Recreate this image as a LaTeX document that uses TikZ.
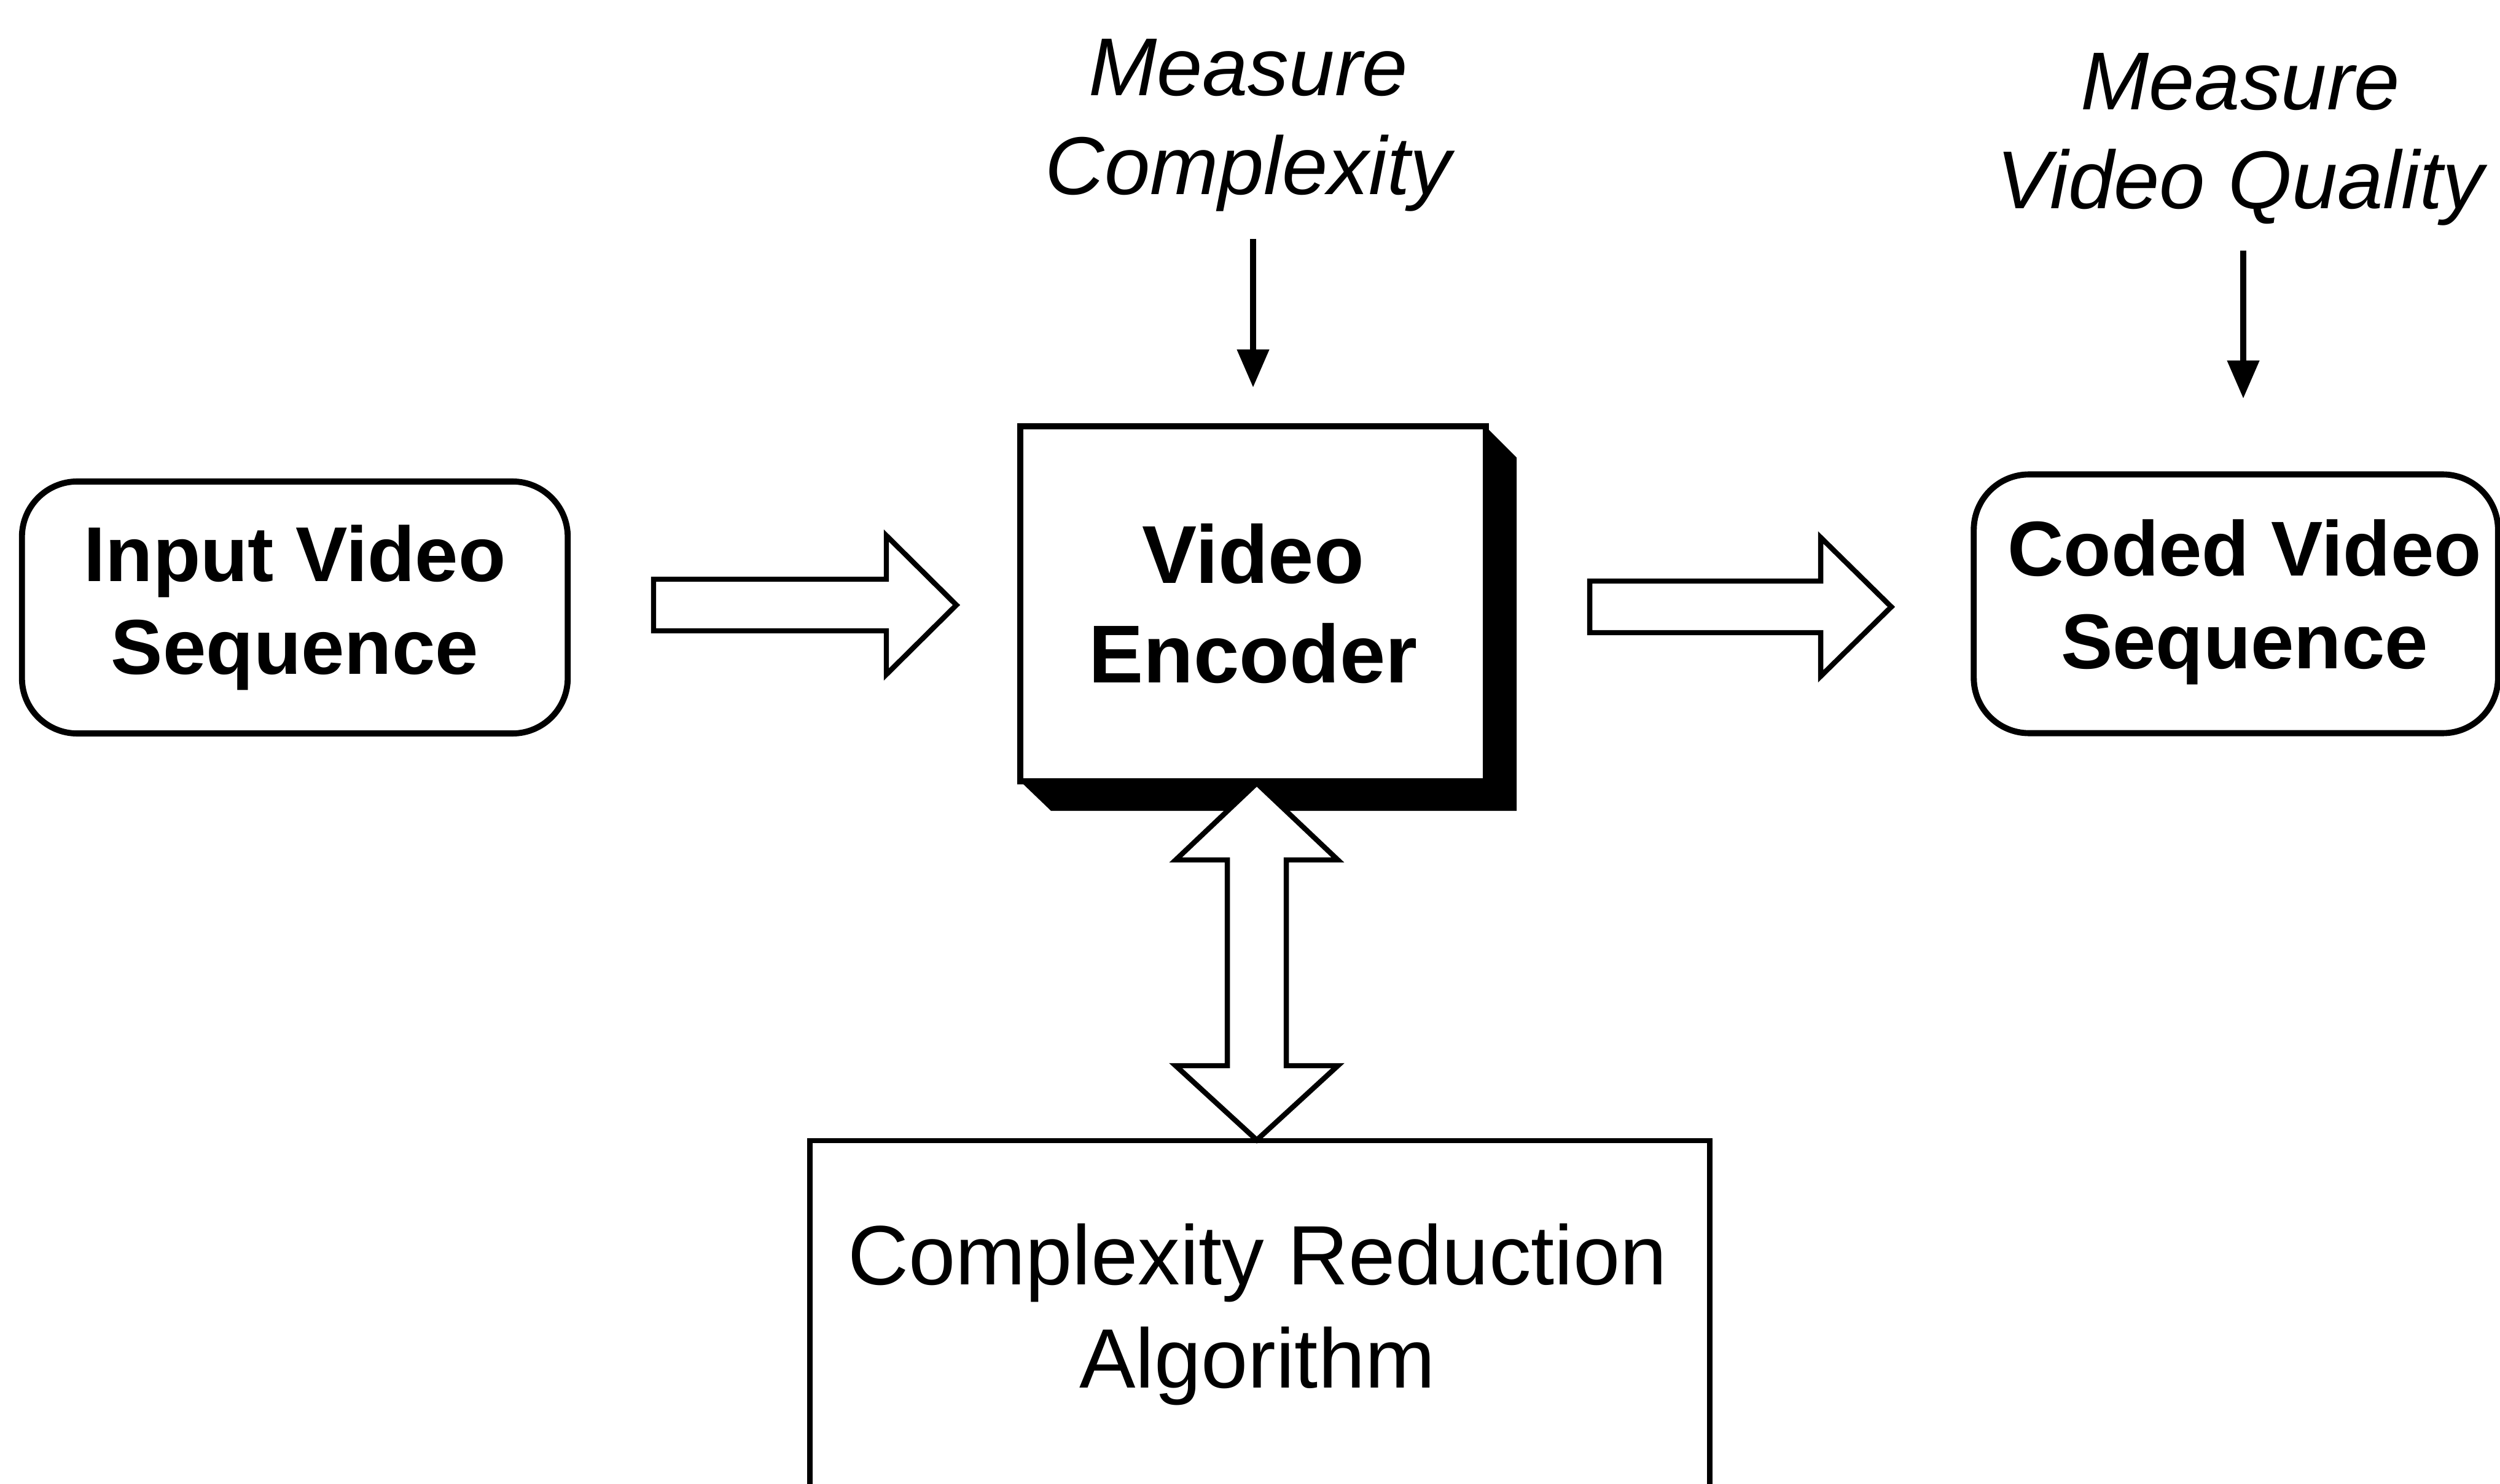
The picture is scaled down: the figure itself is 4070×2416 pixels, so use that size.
\documentclass[tikz,border=0pt]{standalone}
\usepackage{fontspec}
\setmainfont{Liberation Sans}
\usetikzlibrary{arrows.meta,calc}
\tikzset{
  rbox/.style={draw, line width=2.8pt, rounded corners=0.9cm, align=center,
    font=\fontsize{36}{43}\selectfont\bfseries, inner sep=0pt},
  boldtext/.style={align=center, font=\fontsize{36}{43}\selectfont\bfseries, inner sep=0pt},
  encbox/.style={draw, line width=2.8pt, fill=white, align=center,
    font=\fontsize{38}{46}\selectfont\bfseries, inner sep=0pt},
  plainbox/.style={draw, line width=2.4pt, inner sep=0pt},
  measure/.style={align=center, font=\fontsize{38}{46}\selectfont\itshape, inner sep=0pt},
  bodytext/.style={align=center, font=\fontsize{39}{48}\selectfont, inner sep=0pt},
  thinarrow/.style={line width=3pt, -{Triangle[length=0.62cm,width=0.5cm]}},
  blockarrow/.style={draw, line width=2.4pt, fill=white, line join=miter},
}
\begin{document}
\begin{tikzpicture}[x=0.01cm,y=-0.01cm]
\useasboundingbox (0,0) rectangle (4070,2416);
\clip (0,0) rectangle (4070,2416);

% boxes
\node[rbox, minimum width=8.88cm, minimum height=4.1cm] (inp) at (480,989) {Input Video\\Sequence};
\node[rbox, minimum width=8.53cm, minimum height=4.21cm] (cod) at (3640,983) {};
\node[boldtext] (codt) at (3654,980) {Coded Video\\Sequence};

% encoder with 3D shadow
\coordinate (encC) at (2040,983);
\fill[black] (2419,695) -- (2469,745) -- (2469,1320) -- (1711,1320) -- (1661,1272) -- (2419,1272) -- cycle;
\node[encbox, minimum width=7.58cm, minimum height=5.77cm] (enc) at (encC) {Video\\Encoder};

% complexity reduction box
\node[plainbox, minimum width=14.64cm, minimum height=8cm, anchor=north] (crb) at (2051,1853) {};
\node[bodytext] (crt) at (2047,2140) {Complexity Reduction\\Algorithm};

% measure labels
\node[measure] (mc) at (2032,204) {Measure\\Complexity};
\node[measure] (mq) at (3647,227) {Measure\\Video Quality};
\coordinate (mcA) at (2040,389);
\coordinate (mcB) at (2040,631);
\coordinate (mqA) at (3652,408);
\coordinate (mqB) at (3652,649);
\draw[thinarrow] (mcA) -- (mcB);
\draw[thinarrow] (mqA) -- (mqB);

% block arrow input -> encoder
\coordinate (a1t) at (1064,985);
\coordinate (a1h) at (1557,985);
\draw[blockarrow] ($(a1t)+(0,-42)$) -- ($(a1t)+(379,-42)$) -- ($(a1t)+(379,-113)$) -- (a1h)
  -- ($(a1t)+(379,113)$) -- ($(a1t)+(379,42)$) -- ($(a1t)+(0,42)$) -- cycle;

% block arrow encoder -> coded
\coordinate (a2t) at (2588,988);
\coordinate (a2h) at (3079,988);
\draw[blockarrow] ($(a2t)+(0,-42)$) -- ($(a2t)+(376,-42)$) -- ($(a2t)+(376,-113)$) -- (a2h)
  -- ($(a2t)+(376,113)$) -- ($(a2t)+(376,42)$) -- ($(a2t)+(0,42)$) -- cycle;

% double block arrow encoder <-> complexity reduction
\coordinate (dT) at (2046,1275);
\coordinate (dB) at (2046,1856);
\draw[blockarrow] (dT) -- ($(dT)+(132,125)$) -- ($(dT)+(48,125)$) -- ($(dB)+(48,-121)$)
  -- ($(dB)+(132,-121)$) -- (dB) -- ($(dB)+(-132,-121)$) -- ($(dB)+(-48,-121)$)
  -- ($(dT)+(-48,125)$) -- ($(dT)+(-132,125)$) -- cycle;
\end{tikzpicture}
\end{document}
